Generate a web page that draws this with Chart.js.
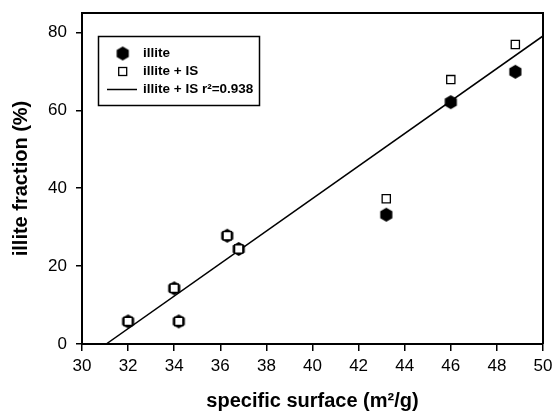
<!DOCTYPE html>
<html><head><meta charset="utf-8">
<script src="https://cdn.jsdelivr.net/npm/chart.js@4/dist/chart.umd.min.js"></script>
<style>html,body{margin:0;padding:0;background:#fff}#wrap{width:553px;height:415px;position:relative}</style>
</head><body><div id="wrap"><canvas id="c" width="553" height="415"></canvas></div>
<script>
// ---- data ----
const surfaceX  = [32.0, 34.0, 34.2, 36.3, 36.8, 43.2, 46.0, 48.8];
const illiteY   = [5.8, 14.3, 5.8, 27.8, 24.4, 33.2, 62.1, 69.9];
const illiteIsY = [5.8, 14.3, 5.8, 27.8, 24.4, 37.3, 67.9, 76.9];
const fitX = [31.05, 50];
const fitY = [0, 79.1];
const xTicks = [30, 32, 34, 36, 38, 40, 42, 44, 46, 48, 50];
const yTicks = [0, 20, 40, 60, 80];
const seriesNames = ['illite', 'illite + IS', 'illite + IS r\u00B2=0.938'];
const xTitle = 'specific surface (m\u00B2/g)';
const yTitle = 'illite fraction (%)';

const FONT = "'Liberation Sans', Arial, Helvetica, sans-serif";

function hexCanvas(r) {
  const w = Math.ceil(2 * r * Math.cos(Math.PI / 6)) + 2, h = Math.ceil(2 * r) + 2;
  const c = document.createElement('canvas');
  c.width = w; c.height = h;
  const g = c.getContext('2d');
  g.fillStyle = '#000';
  g.beginPath();
  for (let i = 0; i < 6; i++) {
    const a = Math.PI / 2 + i * Math.PI / 3;
    const px = w / 2 + r * Math.cos(a), py = h / 2 + r * Math.sin(a);
    i ? g.lineTo(px, py) : g.moveTo(px, py);
  }
  g.closePath(); g.fill();
  return c;
}
const hex = hexCanvas(7);

const pts = (xs, ys) => xs.map((x, i) => ({x, y: ys[i]}));

const frameAndLegend = {
  id: 'frameAndLegend',
  afterDraw(chart) {
    const ctx = chart.ctx, a = chart.chartArea;
    ctx.save();
    ctx.strokeStyle = '#000';
    ctx.lineWidth = 2;
    ctx.beginPath();
    ctx.moveTo(a.left, a.top); ctx.lineTo(a.right, a.top); ctx.lineTo(a.right, a.bottom);
    ctx.stroke();
    // legend box
    const bx = 98.5, by = 36.5, bw = 161, bh = 69;
    ctx.fillStyle = '#fff';
    ctx.fillRect(bx, by, bw, bh);
    ctx.lineWidth = 1.5;
    ctx.strokeRect(bx, by, bw, bh);
    const ds = chart.data.datasets;
    const rows = [53.5, 71.5, 89.5];
    const symX = 122.7, textX = 143;
    ctx.drawImage(hex, symX - hex.width / 2, rows[0] - hex.height / 2);
    ctx.fillStyle = '#fff';
    ctx.lineWidth = 1.3;
    ctx.fillRect(symX - 4, rows[1] - 4, 8, 8);
    ctx.strokeRect(symX - 4, rows[1] - 4, 8, 8);
    ctx.lineWidth = 1.5;
    ctx.beginPath(); ctx.moveTo(107, rows[2]); ctx.lineTo(137, rows[2]); ctx.stroke();
    ctx.fillStyle = '#000';
    ctx.font = 'bold 13.5px ' + FONT;
    ctx.textBaseline = 'middle';
    ctx.textAlign = 'left';
    ctx.fillText(ds[2].label, textX, rows[0]);
    ctx.fillText(ds[0].label, textX, rows[1]);
    ctx.fillText(ds[1].label, textX, rows[2]);
    ctx.restore();
  }
};

new Chart(document.getElementById('c'), {
  type: 'scatter',
  data: {
    datasets: [
      { label: seriesNames[1], data: pts(surfaceX, illiteIsY), order: 0,
        pointStyle: 'rect', pointRadius: 5.8, pointHoverRadius: 5.8,
        backgroundColor: '#fff', borderColor: '#000', borderWidth: 1.3 },
      { label: seriesNames[2], type: 'line', data: pts(fitX, fitY), order: 2,
        showLine: true, pointRadius: 0, borderColor: '#000', borderWidth: 1.5, fill: false, tension: 0 },
      { label: seriesNames[0], data: pts(surfaceX, illiteY), order: 1,
        pointStyle: hex, pointRadius: 7, backgroundColor: '#000', borderColor: '#000' }
    ]
  },
  options: {
    responsive: false, animation: false, devicePixelRatio: 1,
    layout: { padding: { top: 13, right: 10, left: 0, bottom: 0 } },
    plugins: { legend: { display: false }, tooltip: { enabled: false } },
    scales: {
      x: {
        type: 'linear', min: 30, max: 50,
        afterBuildTicks: s => { s.ticks = xTicks.map(v => ({value: v})); },
        afterFit: s => { s.height = 71; s.paddingLeft = 0; s.paddingRight = 0; },
        grid: { display: true, drawOnChartArea: false, drawTicks: true, tickLength: 7, color: '#000', lineWidth: 1.5 },
        border: { display: true, color: '#000', width: 2 },
        ticks: { color: '#000', font: { family: FONT, size: 17 }, padding: 5, maxRotation: 0, autoSkip: false },
        title: { display: true, text: xTitle, color: '#000', font: { family: FONT, size: 20, weight: 'bold' }, padding: { top: 0, bottom: 2 } }
      },
      y: {
        type: 'linear', min: 0, max: 85,
        afterBuildTicks: s => { s.ticks = yTicks.map(v => ({value: v})); },
        afterFit: s => { s.width = 82; s.paddingTop = 0; s.paddingBottom = 0; },
        grid: { display: true, drawOnChartArea: false, drawTicks: true, tickLength: 6, color: '#000', lineWidth: 1.5 },
        border: { display: true, color: '#000', width: 2 },
        ticks: { color: '#000', font: { family: FONT, size: 17 }, padding: 9, autoSkip: false },
        title: { display: true, text: yTitle, color: '#000', font: { family: FONT, size: 20, weight: 'bold' }, padding: { top: 9, bottom: 0 } }
      }
    }
  },
  plugins: [frameAndLegend]
});
</script>
</body></html>
